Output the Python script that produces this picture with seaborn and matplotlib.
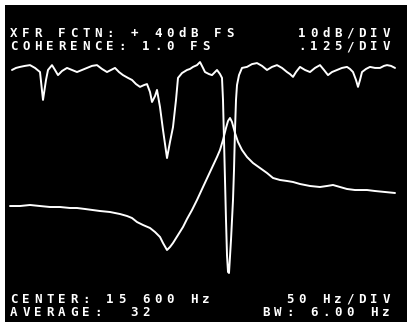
import matplotlib
matplotlib.use("Agg")
import matplotlib.pyplot as plt
import seaborn as sns

# Coherence trace: frequency (Hz) and coherence (0..1, .125/div)
coh_freq = [15352.6, 15357.8, 15363.0, 15369.5, 15376.0, 15382.5, 15389.0, 15392.9,
            15396.8, 15399.4, 15404.6, 15408.5, 15412.4, 15417.6, 15424.1, 15430.6,
            15437.1, 15443.6, 15450.1, 15456.6, 15463.1, 15469.6, 15476.1, 15481.3,
            15486.5, 15491.7, 15496.9, 15503.4, 15508.6, 15513.8, 15519.0, 15524.2,
            15528.1, 15532.0, 15534.6, 15538.5, 15541.1, 15545.0, 15548.9, 15554.1,
            15558.0, 15561.9, 15565.8, 15568.4, 15573.6, 15580.1, 15584.0, 15587.9,
            15593.1, 15597.0, 15600.9, 15603.5, 15608.7, 15612.6, 15616.5, 15619.1,
            15623.0, 15625.6, 15626.9, 15628.2, 15629.5, 15630.8, 15632.1, 15633.4,
            15634.7, 15637.3, 15639.9, 15641.2, 15642.5, 15643.8, 15645.1, 15647.7,
            15651.6, 15658.1, 15664.6, 15671.1, 15677.6, 15684.1, 15690.6, 15697.1,
            15703.6, 15710.1, 15714.0, 15717.9, 15721.8, 15727.0, 15733.5, 15740.0,
            15746.5, 15753.0, 15758.2, 15763.4, 15768.6, 15775.1, 15781.6, 15788.1,
            15792.0, 15795.9, 15799.8, 15802.4, 15805.0, 15807.6, 15812.8, 15818.0,
            15824.5, 15831.0, 15836.2, 15840.1, 15845.3, 15850.5]
coherence = [0.961, 0.969, 0.973, 0.977, 0.980, 0.969, 0.953, 0.844,
             0.922, 0.961, 0.980, 0.961, 0.941, 0.957, 0.969, 0.961,
             0.953, 0.961, 0.969, 0.977, 0.980, 0.965, 0.953, 0.961,
             0.969, 0.953, 0.941, 0.930, 0.922, 0.906, 0.895, 0.902,
             0.906, 0.875, 0.836, 0.859, 0.883, 0.816, 0.727, 0.617,
             0.680, 0.738, 0.844, 0.930, 0.949, 0.961, 0.965, 0.973,
             0.980, 0.992, 0.969, 0.953, 0.945, 0.941, 0.953, 0.961,
             0.945, 0.930, 0.844, 0.688, 0.531, 0.375, 0.238, 0.172,
             0.168, 0.297, 0.453, 0.570, 0.727, 0.844, 0.902, 0.941,
             0.969, 0.973, 0.984, 0.988, 0.977, 0.961, 0.973, 0.980,
             0.969, 0.953, 0.945, 0.934, 0.953, 0.973, 0.961, 0.953,
             0.969, 0.980, 0.961, 0.941, 0.953, 0.961, 0.969, 0.973,
             0.965, 0.953, 0.922, 0.895, 0.922, 0.953, 0.965, 0.973,
             0.969, 0.969, 0.977, 0.980, 0.977, 0.969]

# Transfer-function magnitude: frequency (Hz) and level (dB, 10 dB/div)
xfr_freq = [15350.0, 15363.0, 15376.0, 15389.0, 15402.0, 15415.0, 15428.0, 15437.1,
            15447.5, 15467.0, 15480.0, 15493.0, 15502.1, 15508.6, 15515.1, 15522.9,
            15532.0, 15538.5, 15545.0, 15548.9, 15554.1, 15558.0, 15561.9, 15568.4,
            15574.9, 15580.1, 15586.6, 15593.1, 15600.9, 15610.0, 15619.1, 15623.0,
            15626.9, 15630.8, 15633.4, 15636.0, 15638.6, 15642.5, 15646.4, 15651.6,
            15658.1, 15665.9, 15675.0, 15684.1, 15691.9, 15701.0, 15710.1, 15717.9,
            15727.0, 15740.0, 15753.0, 15762.1, 15769.9, 15779.0, 15788.1, 15798.5,
            15814.1, 15824.5, 15837.5, 15850.5]
xfr_db = [-5.63, -5.63, -5.31, -5.63, -5.94, -5.94, -6.25, -6.25,
          -6.56, -7.19, -7.50, -8.13, -8.75, -9.38, -10.63, -11.56,
          -12.50, -13.75, -15.31, -17.19, -19.38, -18.44, -17.19, -14.69,
          -12.19, -9.69, -6.88, -3.75, 0.31, 5.00, 9.69, 11.88,
          15.00, 18.75, 20.94, 21.88, 20.63, 17.19, 14.38, 11.88,
          9.69, 7.81, 6.25, 4.69, 3.13, 2.50, 2.19, 1.88,
          1.25, 0.63, 0.31, 0.63, 0.94, 0.31, -0.31, -0.63,
          -0.63, -0.94, -1.25, -1.56]

header_left = ["XFR FCTN: + 40dB FS", "COHERENCE: 1.0 FS"]
header_right = ["10dB/DIV", ".125/DIV"]
footer_left = ["CENTER: 15 600 Hz", "AVERAGE:  32"]
footer_right = ["50 Hz/DIV", "BW: 6.00 Hz"]

# Display geometry (pixels) and scale factors
W, H, DPI = 407, 322, 100
HZ_PER_PX = 1.3
X0_PX, X0_HZ = 10, 15350.0
COH_ZERO_PX, COH_PX_PER_UNIT = 316, 256.0
DB_REF_PX, DB_REF, DB_PX_PER_DB = 60, 40.0, 3.2
SCREEN_L, SCREEN_T = 5, 5

sns.set_style("dark", rc={"axes.facecolor": "black", "figure.facecolor": "white"})

fig = plt.figure(figsize=(W / DPI, H / DPI), dpi=DPI)
ax = fig.add_axes([SCREEN_L / W, 0, (W - SCREEN_L) / W, (H - SCREEN_T) / H])
ax.set_facecolor("black")

sns.lineplot(x=coh_freq, y=coherence, ax=ax, color="white", lw=1.4,
             sort=False, estimator=None)
ax.set_xlim(X0_HZ + (SCREEN_L - X0_PX) * HZ_PER_PX, X0_HZ + (W - X0_PX) * HZ_PER_PX)
ax.set_ylim((COH_ZERO_PX - H) / COH_PX_PER_UNIT, (COH_ZERO_PX - SCREEN_T) / COH_PX_PER_UNIT)

ax2 = ax.twinx()
sns.lineplot(x=xfr_freq, y=xfr_db, ax=ax2, color="white", lw=1.4,
             sort=False, estimator=None)
ax2.set_ylim(DB_REF - (H - DB_REF_PX) / DB_PX_PER_DB, DB_REF + (DB_REF_PX - SCREEN_T) / DB_PX_PER_DB)

for a in (ax, ax2):
    a.set_xticks([])
    a.set_yticks([])
    a.set_xlabel("")
    a.set_ylabel("")
    a.grid(False)
    for s in a.spines.values():
        s.set_visible(False)
ax2.patch.set_visible(False)

# Character-cell readout text on a fixed 12 px pitch grid
PITCH, COL0_PX, NCOLS = 12, 10, 32


def readout(text, baseline_px, right=False):
    start = NCOLS - len(text) if right else 0
    for i, ch in enumerate(text):
        if ch == " ":
            continue
        xc = COL0_PX + (start + i) * PITCH + 4
        fig.text(xc / W, 1 - baseline_px / H, ch, ha="center", va="baseline",
                 color="white", fontsize=9, fontweight="bold",
                 family="DejaVu Sans Mono")


for line, base in zip(header_left, [37, 50]):
    readout(line, base)
for line, base in zip(header_right, [37, 50]):
    readout(line, base, right=True)
for line, base in zip(footer_left, [303, 316]):
    readout(line, base)
for line, base in zip(footer_right, [303, 316]):
    readout(line, base, right=True)

fig.savefig("out.png", dpi=DPI, facecolor="white")
